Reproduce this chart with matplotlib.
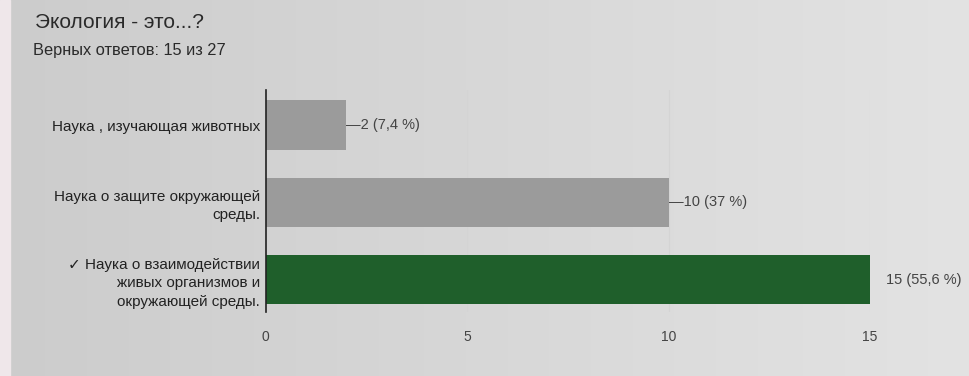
import numpy as np
import matplotlib.pyplot as plt

plt.rcParams['font.family'] = ['Liberation Sans', 'DejaVu Sans']

answers = ["Наука , изучающая животных",
           "Наука о защите окружающей\nсреды.",
           "✓ Наука о взаимодействии\nживых организмов и\nокружающей среды."]
counts = [2, 10, 15]
shares = ["7,4", "37", "55,6"]
correct = [False, False, True]
total = 27
ticks = [0, 5, 10, 15]

fig = plt.figure(figsize=(9.7, 3.76), dpi=100)

# screen background: slightly darker on the left
bg = fig.add_axes([0, 0, 1, 1], zorder=-10)
grad = np.linspace(0.80, 0.89, 256)[None, :]
bg.imshow(np.dstack([grad, grad, grad]), aspect='auto', extent=[0, 1, 0, 1])
bg.axvspan(0, 0.01, color='#efe7ea')
bg.set_xlim(0, 1)
bg.set_ylim(0, 1)
bg.axis('off')

fig.text(0.036, 0.94, "Экология - это...?", fontsize=15, color='#2a2a2a', va='center')
fig.text(0.034, 0.865, f"Верных ответов: {counts[2]} из {total}", fontsize=11.8,
         color='#2a2a2a', va='center')

ax = fig.add_axes([0.274, 0.17, 0.623, 0.59])
ax.patch.set_alpha(0)
y = np.arange(len(counts))
colors = ['#1f5f2b' if c else '#9b9b9b' for c in correct]
ax.barh(y, counts, height=0.64, color=colors, zorder=2)

ax.set_xlim(0, 15)
ax.set_ylim(2.42, -0.45)
ax.set_xticks(ticks)
ax.set_xticklabels([str(t) for t in ticks], fontsize=10, color='#444444')
ax.tick_params(axis='x', length=0, pad=13)
ax.set_yticks(y)
ax.set_yticklabels(answers, fontsize=11, color='#222222', linespacing=1.4)
ax.tick_params(axis='y', length=0, pad=4)
ax.grid(axis='x', color='#d4d4d4', lw=0.8, zorder=0)
for s in ['top', 'right', 'bottom']:
    ax.spines[s].set_visible(False)
ax.spines['left'].set_color('#222222')
ax.spines['left'].set_linewidth(1.2)
ax.spines['left'].set_zorder(3)

for yi, c, p in zip(y, counts, shares):
    if c == max(counts):
        ax.text(c + 0.4, yi, f"{c} ({p} %)", fontsize=10.5, color='#444444',
                va='center', clip_on=False)
    else:
        ax.text(c, yi, f"—{c} ({p} %)", fontsize=10.5, color='#444444',
                va='center', clip_on=False)

fig.savefig("out.png", dpi=100)
